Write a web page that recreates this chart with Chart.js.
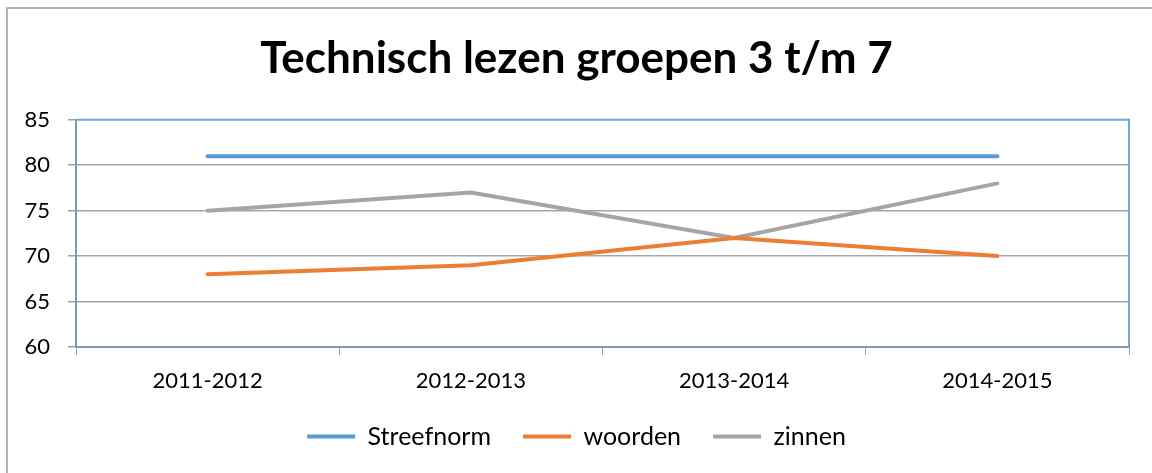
<!DOCTYPE html>
<html>
<head>
<meta charset="utf-8">
<script src="https://cdn.jsdelivr.net/npm/chart.js@4"></script>
<style>
  html, body { margin: 0; padding: 0; background: #fff; }
  #wrap { width: 1152px; height: 473px; }
</style>
</head>
<body>
<div id="wrap"><canvas id="chart" width="1152" height="473"></canvas></div>
<script>
const years = ['2011-2012', '2012-2013', '2013-2014', '2014-2015'];
const streefnorm = [81, 81, 81, 81];
const woorden = [68, 69, 72, 70];
const zinnen = [75, 77, 72, 78];
const yTicks = [60, 65, 70, 75, 80, 85];

const FONT = 'Lato, "Open Sans", sans-serif';

// gray frame round the whole chart and the blue top/right edge of the plot
const frame = {
    id: 'frame',
    beforeDraw(chart) {
        const ctx = chart.ctx;
        ctx.save();
        ctx.fillStyle = '#fff';
        ctx.fillRect(0, 0, chart.width, chart.height);
        ctx.strokeStyle = '#b3b3b3';
        ctx.lineWidth = 2;
        ctx.strokeRect(7, 8, chart.width + 20, chart.height + 20);
        ctx.restore();
    },
    beforeDatasetsDraw(chart) {
        const a = chart.chartArea;
        const ctx = chart.ctx;
        ctx.save();
        ctx.strokeStyle = '#6fa8dc';
        ctx.lineWidth = 2;
        ctx.beginPath();
        ctx.moveTo(a.left, a.top);
        ctx.lineTo(a.right, a.top);
        ctx.lineTo(a.right, a.bottom);
        ctx.stroke();
        ctx.restore();
    }
};

new Chart(document.getElementById('chart'), {
    type: 'line',
    data: {
        labels: years,
        datasets: [
            { label: 'Streefnorm', data: streefnorm, borderColor: '#5b9bd5', backgroundColor: '#5b9bd5' },
            { label: 'woorden', data: woorden, borderColor: '#ed7d31', backgroundColor: '#ed7d31' },
            { label: 'zinnen', data: zinnen, borderColor: '#a5a5a5', backgroundColor: '#a5a5a5' }
        ]
    },
    options: {
        responsive: false,
        animation: false,
        layout: { padding: { top: 10, right: 23, bottom: 14, left: 24 } },
        elements: {
            line: { borderWidth: 4, tension: 0, borderCapStyle: 'round' },
            point: { radius: 0, hoverRadius: 0 }
        },
        scales: {
            x: {
                offset: true,
                grid: { offset: true, drawOnChartArea: false, color: '#a0a0a0', tickLength: 8 },
                border: { color: '#8497b0', width: 2 },
                ticks: { color: '#000', font: { family: FONT, size: 22 }, padding: 13 },
                afterFit: (s) => { s.height = 45; }
            },
            y: {
                min: 60,
                max: 85,
                afterBuildTicks: (s) => { s.ticks = yTicks.map(v => ({ value: v })); },
                grid: {
                    color: (c) => c.tick && c.tick.value === 85 ? 'rgba(0,0,0,0)' : '#a6a6a6',
                    tickColor: '#a0a0a0',
                    tickLength: 8,
                    lineWidth: 1.5
                },
                border: { color: '#8497b0', width: 2 },
                ticks: { color: '#000', font: { family: FONT, size: 22 }, padding: 18 },
                afterFit: (s) => { s.width = 52; }
            }
        },
        plugins: {
            title: {
                display: true,
                text: 'Technisch lezen groepen 3 t/m 7',
                color: '#000',
                font: { family: FONT, size: 44, weight: 'bold' },
                padding: { top: 22, bottom: 35 }
            },
            legend: {
                position: 'bottom',
                labels: {
                    color: '#000',
                    font: { family: FONT, size: 25 },
                    boxWidth: 48,
                    boxHeight: 4,
                    padding: 32,
                    generateLabels: (chart) => Chart.defaults.plugins.legend.labels.generateLabels(chart)
                        .map(l => Object.assign(l, { lineWidth: 0, fillStyle: l.strokeStyle }))
                }
            },
            tooltip: { enabled: false }
        }
    },
    plugins: [frame]
});
</script>
</body>
</html>
